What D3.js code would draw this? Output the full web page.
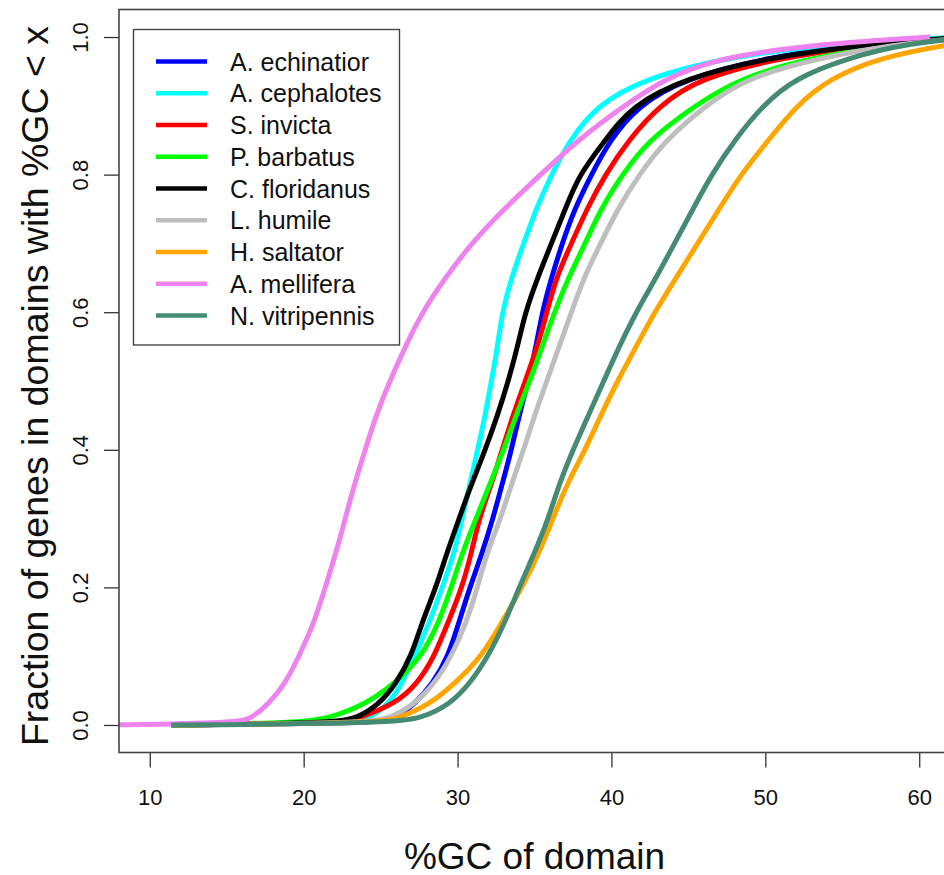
<!DOCTYPE html>
<html>
<head>
<meta charset="utf-8">
<script src="https://cdn.jsdelivr.net/npm/d3@7"></script>
<style>
  body { margin: 0; background: #fff; }
  svg { display: block; font-family: "Liberation Sans", Arial, Helvetica, sans-serif; }
</style>
</head>
<body>
<svg id="chart"></svg>
<script>
// cumulative fraction levels shared by every curve
const fractions = [0, 0.003, 0.01, 0.03, 0.06, 0.1, 0.15, 0.2, 0.25, 0.3, 0.35, 0.4, 0.45,
  0.5, 0.55, 0.6, 0.65, 0.7, 0.75, 0.8, 0.85, 0.9, 0.94, 0.97, 0.99, 1];

// %GC of domain reached at each fraction level, one array per species
const echinatior  = [11.4, 25.3, 26.0, 27.2, 28.4, 29.4, 30.1, 30.8, 31.6, 32.3, 32.9, 33.5, 34.0, 34.6, 35.1, 35.5, 36.1, 36.8, 37.6, 38.7, 39.9, 41.7, 44.8, 50.1, 56.1, 63.0];
const cephalotes  = [11.4, 23.0, 24.3, 25.5, 26.4, 27.2, 28.2, 29.0, 29.8, 30.3, 30.8, 31.3, 31.8, 32.2, 32.6, 32.9, 33.5, 34.3, 35.1, 36.1, 37.3, 39.0, 42.2, 47.4, 54.2, 62.5];
const invicta     = [11.4, 22.3, 23.6, 25.9, 27.4, 28.5, 29.4, 30.3, 30.9, 31.4, 32.2, 32.9, 33.6, 34.4, 35.2, 35.8, 36.4, 37.4, 38.4, 39.6, 41.1, 43.1, 45.7, 50.9, 57.4, 63.3];
const barbatus    = [11.4, 19.7, 21.7, 24.0, 25.9, 27.7, 28.8, 29.6, 30.3, 31.2, 32.1, 33.0, 33.8, 34.7, 35.5, 36.3, 37.2, 38.3, 39.3, 40.7, 42.4, 45.4, 48.3, 52.9, 58.7, 63.5];
const floridanus  = [11.4, 22.0, 23.5, 24.9, 26.0, 27.0, 27.7, 28.6, 29.3, 30.1, 30.9, 31.8, 32.6, 33.3, 33.9, 34.4, 35.2, 36.1, 37.0, 37.9, 39.6, 41.3, 44.8, 50.1, 56.8, 63.0];
const humile      = [11.4, 24.3, 25.6, 27.2, 28.5, 29.6, 30.6, 31.3, 31.9, 32.8, 33.5, 34.3, 35.0, 35.8, 36.6, 37.4, 38.2, 39.3, 40.4, 41.8, 43.5, 46.1, 48.7, 53.5, 58.7, 63.5];
const saltator    = [11.4, 24.9, 26.2, 28.2, 29.8, 31.6, 32.9, 34.2, 35.3, 36.2, 37.1, 38.3, 39.3, 40.4, 41.6, 42.8, 44.2, 45.6, 47.0, 48.4, 50.2, 52.0, 54.2, 57.4, 62.0, 65.9];
const mellifera   = [7.0, 15.8, 16.6, 17.7, 18.8, 19.7, 20.7, 21.4, 22.1, 22.7, 23.3, 24.0, 24.7, 25.6, 26.6, 27.7, 29.2, 30.9, 33.0, 35.4, 37.8, 40.8, 43.5, 47.0, 53.5, 60.7];
const vitripennis = [11.4, 25.6, 27.7, 29.5, 30.8, 32.0, 33.1, 34.0, 35.0, 35.9, 36.6, 37.5, 38.5, 39.5, 40.5, 41.6, 42.9, 44.1, 45.3, 46.5, 48.0, 49.8, 51.9, 55.4, 59.1, 63.3];

const species = ['A. echinatior', 'A. cephalotes', 'S. invicta', 'P. barbatus', 'C. floridanus',
  'L. humile', 'H. saltator', 'A. mellifera', 'N. vitripennis'];
const gcValues = [echinatior, cephalotes, invicta, barbatus, floridanus, humile, saltator, mellifera, vitripennis];
const colors = ['#0000ff', '#00ffff', '#ff0000', '#00ff00', '#000000', '#bebebe', '#ffa500', '#ee82ee', '#458b74'];

const xTicks = [10, 20, 30, 40, 50, 60];
const yTicks = [0, 0.2, 0.4, 0.6, 0.8, 1.0];

const width = 944;
const height = 875;
const plot = { left: 119, top: 9.5, right: 950, bottom: 752.5 };

const svg = d3.select('#chart')
  .attr('width', width)
  .attr('height', height);

svg.append('rect').attr('width', width).attr('height', height).attr('fill', '#fff');

// scales (R style 4% padding around the data range)
const x = d3.scaleLinear().domain([8, 62]).range([plot.left, plot.right]);
const y = d3.scaleLinear().domain([-0.04, 1.04]).range([plot.bottom, plot.top]);

svg.append('clipPath').attr('id', 'clip')
  .append('rect')
  .attr('x', plot.left).attr('y', plot.top)
  .attr('width', plot.right - plot.left).attr('height', plot.bottom - plot.top);

// curves, drawn in legend order so N. vitripennis ends up on top
const line = d3.line()
  .x(d => x(d[0]))
  .y(d => y(d[1]))
  .curve(d3.curveBasis);

svg.append('g')
  .attr('clip-path', 'url(#clip)')
  .selectAll('path')
  .data(gcValues)
  .join('path')
  .attr('d', gc => line(gc.map((v, i) => [v, fractions[i]])))
  .attr('fill', 'none')
  .attr('stroke', (d, i) => colors[i])
  .attr('stroke-width', 5)
  .attr('stroke-linejoin', 'round');

// axes
const xAxis = svg.append('g')
  .attr('transform', `translate(0, ${plot.bottom})`)
  .call(d3.axisBottom(x).tickValues(xTicks).tickSize(15).tickPadding(22).tickFormat(d3.format('d')));

const yAxis = svg.append('g')
  .attr('transform', `translate(${plot.left}, 0)`)
  .call(d3.axisLeft(y).tickValues(yTicks).tickSize(15).tickFormat(d3.format('.1f')));

[xAxis, yAxis].forEach(g => {
  g.select('.domain').remove();
  g.selectAll('.tick line').attr('stroke', '#333').attr('stroke-width', 1.3);
  g.selectAll('.tick text').attr('fill', '#111').attr('font-size', 22);
});

xAxis.selectAll('.tick text').attr('dy', '0.71em');

// y labels are turned like R's default las = 0
yAxis.selectAll('.tick text')
  .attr('x', 0).attr('y', 0).attr('dy', null)
  .attr('text-anchor', 'middle')
  .attr('dominant-baseline', 'central')
  .attr('transform', `translate(${80 - plot.left}, 0) rotate(-90)`);

// plot box
svg.append('rect')
  .attr('x', plot.left).attr('y', plot.top)
  .attr('width', plot.right - plot.left).attr('height', plot.bottom - plot.top)
  .attr('fill', 'none').attr('stroke', '#444').attr('stroke-width', 1.6);

// axis titles
svg.append('text')
  .attr('x', (plot.left + plot.right) / 2)
  .attr('y', 856)
  .attr('text-anchor', 'middle')
  .attr('dominant-baseline', 'central')
  .attr('font-size', 37)
  .attr('fill', '#111')
  .text('%GC of domain');

svg.append('text')
  .attr('transform', 'translate(35, 386) rotate(-90)')
  .attr('text-anchor', 'middle')
  .attr('dominant-baseline', 'central')
  .attr('font-size', 37.5)
  .attr('fill', '#111')
  .text('Fraction of genes in domains with %GC < x');

// legend
const legend = svg.append('g');
legend.append('rect')
  .attr('x', 133.5).attr('y', 29.5).attr('width', 266).attr('height', 315.5)
  .attr('fill', '#fff').attr('stroke', '#444').attr('stroke-width', 1.4);

const rows = legend.selectAll('g.row')
  .data(species)
  .join('g')
  .attr('class', 'row')
  .attr('transform', (d, i) => `translate(0, ${61.5 + i * 31.75})`);

rows.append('line')
  .attr('x1', 156).attr('x2', 207)
  .attr('stroke', (d, i) => colors[i])
  .attr('stroke-width', 4.5);

rows.append('text')
  .attr('x', 230)
  .attr('dominant-baseline', 'central')
  .attr('font-size', 25)
  .attr('fill', '#111')
  .text(d => d);
</script>
</body>
</html>
